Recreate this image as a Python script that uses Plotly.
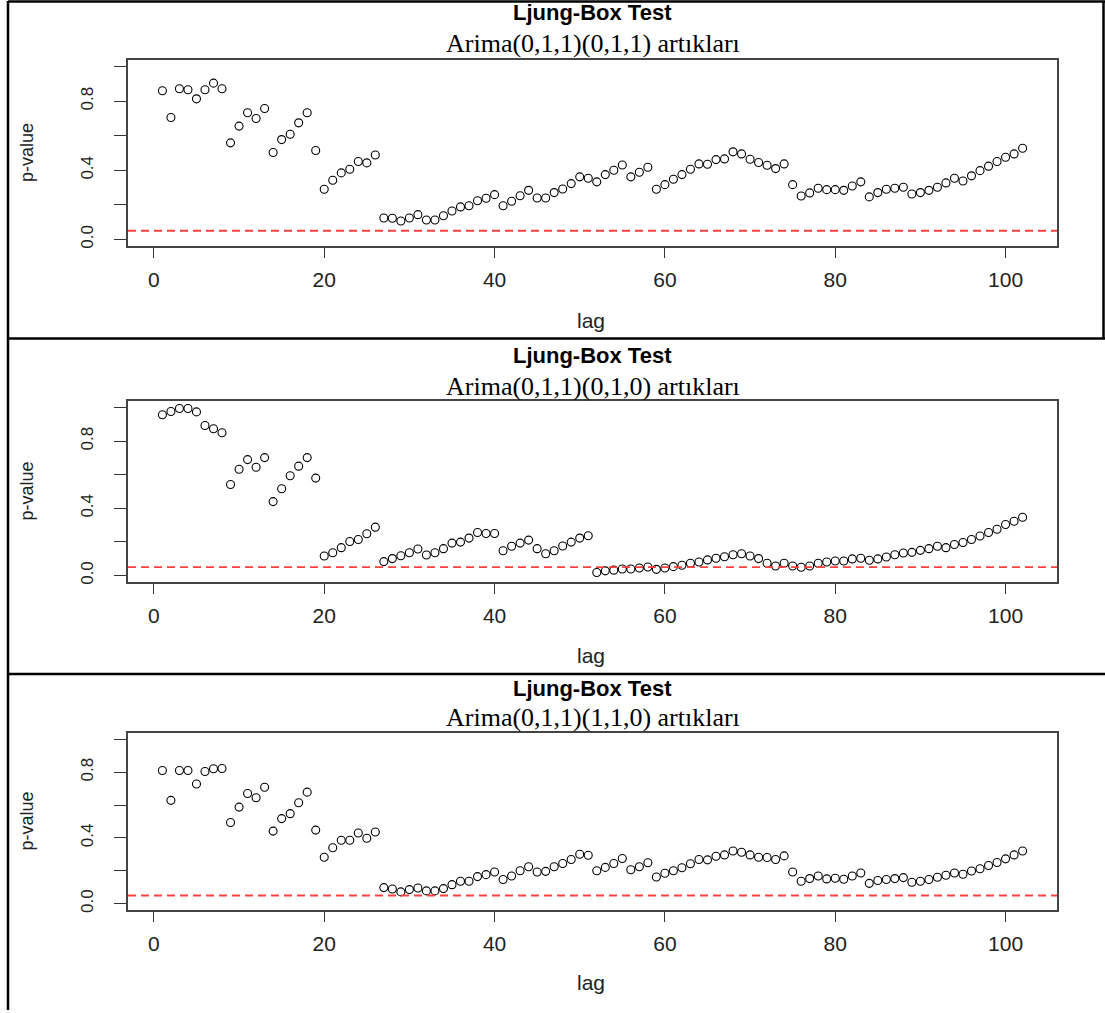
import plotly.graph_objects as go

# ---------------- data ----------------
lags = list(range(1, 103))

pv_011_011 = [
    0.861, 0.706, 0.872, 0.867, 0.814, 0.867, 0.905, 0.872, 0.559, 0.656,
    0.733, 0.700, 0.758, 0.503, 0.578, 0.609, 0.675, 0.733, 0.515, 0.290,
    0.342, 0.385, 0.406, 0.451, 0.443, 0.489, 0.124, 0.122, 0.106, 0.124,
    0.143, 0.112, 0.112, 0.137, 0.164, 0.188, 0.195, 0.224, 0.238, 0.259,
    0.195, 0.221, 0.253, 0.284, 0.240, 0.240, 0.271, 0.292, 0.323, 0.362,
    0.354, 0.333, 0.375, 0.400, 0.431, 0.362, 0.389, 0.418, 0.290, 0.317,
    0.348, 0.375, 0.406, 0.437, 0.435, 0.462, 0.466, 0.507, 0.495, 0.464,
    0.445, 0.429, 0.410, 0.437, 0.317, 0.251, 0.269, 0.296, 0.288, 0.288,
    0.284, 0.309, 0.333, 0.246, 0.271, 0.290, 0.296, 0.302, 0.263, 0.271,
    0.284, 0.302, 0.327, 0.354, 0.338, 0.368, 0.398, 0.424, 0.451, 0.476,
    0.495, 0.528,
]

pv_011_010 = [
    0.957, 0.976, 0.994, 0.994, 0.974, 0.893, 0.874, 0.850, 0.542, 0.633,
    0.690, 0.645, 0.702, 0.440, 0.517, 0.594, 0.651, 0.702, 0.580, 0.116,
    0.136, 0.166, 0.203, 0.215, 0.249, 0.288, 0.083, 0.101, 0.118, 0.136,
    0.158, 0.122, 0.136, 0.160, 0.193, 0.199, 0.223, 0.256, 0.250, 0.250,
    0.148, 0.174, 0.193, 0.211, 0.160, 0.130, 0.148, 0.176, 0.199, 0.223,
    0.237, 0.018, 0.028, 0.032, 0.039, 0.039, 0.045, 0.051, 0.037, 0.045,
    0.053, 0.061, 0.073, 0.081, 0.093, 0.103, 0.112, 0.124, 0.130, 0.116,
    0.101, 0.073, 0.057, 0.073, 0.057, 0.049, 0.057, 0.073, 0.081, 0.087,
    0.087, 0.099, 0.103, 0.091, 0.099, 0.110, 0.124, 0.134, 0.138, 0.150,
    0.160, 0.174, 0.166, 0.185, 0.197, 0.215, 0.235, 0.256, 0.276, 0.304,
    0.323, 0.347,
]

pv_011_110 = [
    0.811, 0.629, 0.811, 0.811, 0.729, 0.805, 0.821, 0.823, 0.494, 0.588,
    0.671, 0.645, 0.709, 0.442, 0.518, 0.548, 0.614, 0.679, 0.448, 0.283,
    0.341, 0.386, 0.386, 0.430, 0.398, 0.436, 0.098, 0.090, 0.072, 0.086,
    0.096, 0.078, 0.078, 0.092, 0.116, 0.137, 0.137, 0.165, 0.177, 0.193,
    0.147, 0.169, 0.201, 0.225, 0.193, 0.197, 0.225, 0.245, 0.269, 0.301,
    0.295, 0.201, 0.221, 0.245, 0.275, 0.207, 0.225, 0.249, 0.163, 0.185,
    0.201, 0.219, 0.243, 0.269, 0.267, 0.289, 0.297, 0.321, 0.313, 0.297,
    0.283, 0.281, 0.269, 0.291, 0.193, 0.137, 0.153, 0.169, 0.151, 0.155,
    0.149, 0.169, 0.187, 0.124, 0.141, 0.147, 0.153, 0.159, 0.131, 0.137,
    0.147, 0.161, 0.173, 0.187, 0.179, 0.199, 0.213, 0.233, 0.251, 0.273,
    0.297, 0.321,
]

series = [pv_011_011, pv_011_010, pv_011_110]
main_title = "Ljung-Box Test"
subtitles = [
    "Arima(0,1,1)(0,1,1) artıkları",
    "Arima(0,1,1)(0,1,0) artıkları",
    "Arima(0,1,1)(1,1,0) artıkları",
]
alpha = 0.05
x_tickvals = [0, 20, 40, 60, 80, 100]
y_tickvals = [0.0, 0.2, 0.4, 0.6, 0.8, 1.0]
y_ticktext = ["0.0", "", "0.4", "", "0.8", ""]
x_label = "lag"
y_label = "p-value"

# ---------------- layout helpers (pixels) ----------------
W, H = 1105, 1013
boxes = [(128, 1057, 60, 247), (128, 1057, 402, 584), (128, 1057, 735, 913)]
title_y = [13, 357, 691]
sub_y = [44, 388, 720]
lag_y = [321, 657, 985]


def px(x):
    return x / W


def py(y):
    return 1 - y / H


fig = go.Figure()
layout = dict(
    width=W, height=H, margin=dict(l=0, r=0, t=0, b=0),
    paper_bgcolor="white", plot_bgcolor="white", showlegend=False,
    font=dict(family="Liberation Sans, Arial, sans-serif", color="#222"),
)
annotations = []
shapes = []

for i, (vals, sub) in enumerate(zip(series, subtitles)):
    n = "" if i == 0 else str(i + 1)
    xa, ya = "x" + n, "y" + n
    x0, x1, y0, y1 = boxes[i]
    fig.add_trace(go.Scatter(
        x=lags, y=vals, mode="markers", xaxis=xa, yaxis=ya,
        marker=dict(symbol="circle-open", size=8, color="black",
                    line=dict(width=1.1, color="black")),
        hoverinfo="x+y",
    ))
    axis_common = dict(showgrid=False, zeroline=False, showline=True,
                       linecolor="#444", linewidth=1.5, mirror=True,
                       ticks="outside", tickcolor="#333", tickwidth=1.3)
    layout["xaxis" + n] = dict(
        axis_common, domain=[px(x0), px(x1)], anchor=ya,
        range=[-3.04, 106.04], tickvals=x_tickvals, ticklen=10,
        ticklabelstandoff=4,
        tickfont=dict(size=21, color="#222", family="Liberation Sans"),
    )
    layout["yaxis" + n] = dict(
        axis_common, domain=[py(y1), py(y0)], anchor=xa,
        range=[-0.04, 1.04], tickvals=y_tickvals, ticktext=y_ticktext,
        ticklen=12, tickangle=-90, ticklabelstandoff=14,
        tickfont=dict(size=17, color="#222", family="Liberation Sans"),
    )
    shapes.append(dict(
        type="line", xref=xa + " domain", yref=ya, x0=0, x1=1,
        y0=alpha, y1=alpha, line=dict(color="#ff4040", width=1.8, dash="8px,5px"),
    ))
    cx = px((x0 + x1) / 2)
    annotations += [
        dict(text="<b>" + main_title + "</b>", x=cx, y=py(title_y[i]),
             xref="paper", yref="paper", showarrow=False, xanchor="center",
             yanchor="middle",
             font=dict(size=22, color="black", family="Liberation Sans")),
        dict(text=sub, x=cx, y=py(sub_y[i]), xref="paper", yref="paper",
             showarrow=False, xanchor="center", yanchor="middle",
             font=dict(size=26, color="black", family="Liberation Serif")),
        dict(text=x_label, x=px(591), y=py(lag_y[i]), xref="paper",
             yref="paper", showarrow=False, xanchor="center", yanchor="middle",
             font=dict(size=21, color="#222", family="Liberation Sans")),
        dict(text=y_label, x=px(27), y=py((y0 + y1) / 2), xref="paper",
             yref="paper", showarrow=False, xanchor="center", yanchor="middle",
             textangle=-90,
             font=dict(size=18, color="#222", family="Liberation Sans")),
    ]

# outer panel frames
frame = dict(color="black", width=2.5)
for (a, b, c, d) in [
    (8, 8, 1, 1013),        # left edge of all panels
    (8, 1105, 1.5, 1.5),    # top of panel 1
    (1103.5, 1103.5, 1, 339.5),  # right edge of panel 1
    (8, 1105, 339.5, 339.5),  # between panels 1 and 2
    (8, 1105, 676, 676),    # between panels 2 and 3
]:
    shapes.append(dict(type="line", xref="paper", yref="paper",
                       x0=px(a), x1=px(b), y0=py(c), y1=py(d), line=frame))

layout["annotations"] = annotations
layout["shapes"] = shapes
fig.update_layout(**layout)
fig.write_html("out.html")
